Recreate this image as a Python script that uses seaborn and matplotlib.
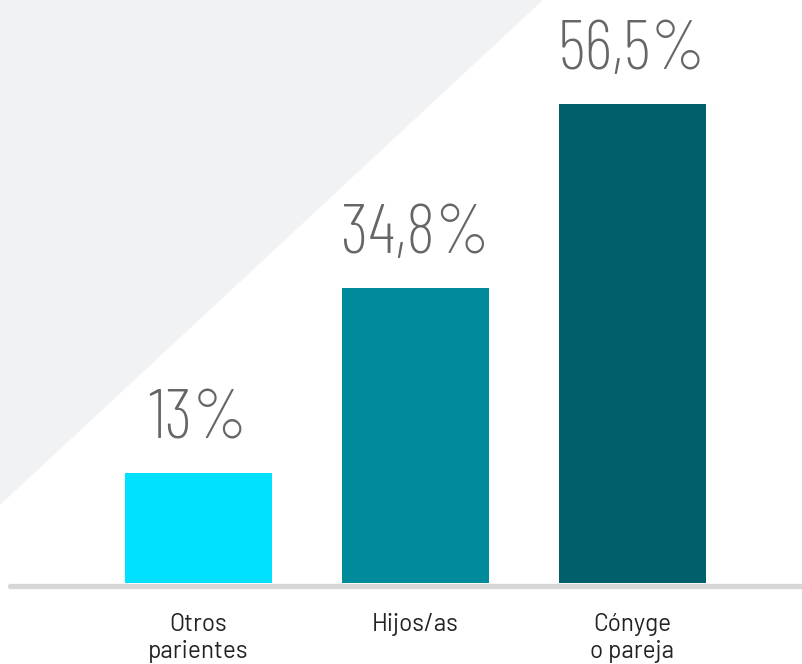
import matplotlib
matplotlib.use("Agg")
import matplotlib.pyplot as plt
from matplotlib.patches import Polygon
from matplotlib.lines import Line2D
from matplotlib.font_manager import FontProperties
import seaborn as sns
import pandas as pd

categories = ["Otros\nparientes", "Hijos/as", "Cónyge\no pareja"]
values = [13.0, 34.8, 56.5]
value_labels = ["13%", "34,8%", "56,5%"]
colors = ["#00e1ff", "#008a9a", "#005f6b"]

W, H = 802, 664
sns.set_style("white")
fig = plt.figure(figsize=(W / 100, H / 100), dpi=100)
fig.patch.set_facecolor("white")

# light grey triangle in the upper-left corner
tri = Polygon([(0, 1), (543 / W, 1), (0, 1 - 505 / H)], closed=True,
              transform=fig.transFigure, facecolor="#f1f2f4", edgecolor="none", zorder=0)
fig.add_artist(tri)

base_px = 583
px_per_unit = 8.48
spacing = 217
first_center = 198
ax = fig.add_axes([0, (H - base_px) / H, 1, base_px / H])
ax.patch.set_alpha(0)
ax.set_zorder(1)

df = pd.DataFrame({"cat": categories, "val": values})
sns.barplot(data=df, x="cat", y="val", hue="cat", palette=colors,
            width=147 / spacing, legend=False, saturation=1, linewidth=0, ax=ax)
ax.set_xlim(-first_center / spacing, (W - first_center) / spacing)
ax.set_ylim(0, base_px / px_per_unit)
ax.axis("off")

# value labels above the bars
num_font = FontProperties(family=["Barlow Condensed", "DejaVu Sans"], weight=275, size=50)
for i, (v, lab) in enumerate(zip(values, value_labels)):
    ax.annotate(lab, (i, v), xytext=(0, 25), textcoords="offset points",
                ha="center", va="baseline", color="#666666",
                fontproperties=num_font, annotation_clip=False)

# baseline rule
fig.add_artist(Line2D([10 / W, 1], [1 - 585.5 / H, 1 - 585.5 / H],
                      transform=fig.transFigure, color="#d5d6d8", linewidth=3.8, zorder=2))

# category labels below the rule, one baseline per line
cat_font = FontProperties(family=["Barlow", "DejaVu Sans"], weight=400, size=17.5)
line_baselines = [631, 658]
for i, cat in enumerate(categories):
    xf = (first_center + i * spacing) / W
    for line, yb in zip(cat.split("\n"), line_baselines):
        fig.text(xf, 1 - yb / H, line, ha="center", va="baseline",
                 fontproperties=cat_font, color="#222222")

fig.savefig("out.png", dpi=100, facecolor="white")
